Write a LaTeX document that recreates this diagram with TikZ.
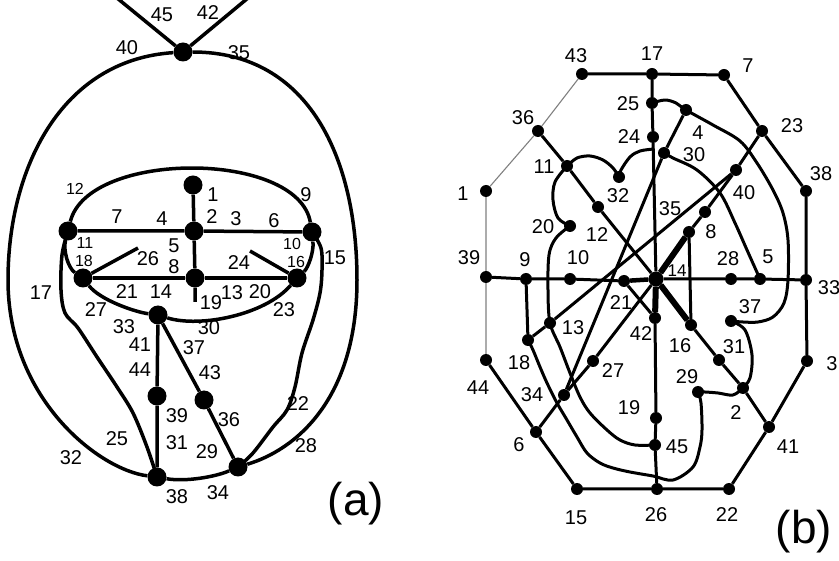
\documentclass[tikz,border=0pt]{standalone}
\usepackage{fontspec}
\setmainfont{Liberation Sans}
\usetikzlibrary{backgrounds}
\begin{document}
\begin{tikzpicture}[x=1pt,y=-1pt,
  bigdot/.style={circle,fill=black,inner sep=0pt,minimum size=19pt},
  dot/.style={circle,fill=black,inner sep=0pt,minimum size=12pt},
  hubdot/.style={circle,fill=black,inner sep=0pt,minimum size=15pt},
  lab/.style={font=\fontsize{20}{20}\selectfont,inner sep=0pt},
  slab/.style={font=\fontsize{16}{16}\selectfont,inner sep=0pt},
  biglab/.style={font=\fontsize{46}{46}\selectfont,inner sep=0pt},
  edgeA/.style={line width=3.5pt,line join=round},
  edgeB/.style={line width=3pt,line join=round},
  thinB/.style={line width=1.1pt,gray},
  hubedge/.style={line width=6pt},
  smoothline/.style={smooth,tension=0.55}]
\useasboundingbox (0,0) rectangle (839,561);

% ---------- (a) nodes ----------
\foreach \n/\x/\y in {T/183/52,1/193/185,2/194/231,A/68/231,B/312/232,18/83/278,8/195/278,16/297/278,C/158/315,D/157/396,E/204/400,38/157/477,34/238/467}
  \node[bigdot] (a\n) at (\x,\y) {};
\coordinate (aL) at (117,-2);
\coordinate (aR) at (248,-2);
\coordinate (a19) at (195,302);
\coordinate (a26) at (138,248);
\coordinate (a24) at (250,251);
\coordinate (aWest) at (8,280);
\coordinate (aEast) at (357,280);

% ---------- (b) nodes ----------
\foreach \n/\x/\y in {43/582/74,17/652/74,7/724/75,25/652/103,24/653/137,4/686/110,30/664/153,23/762/131,38/806/191,36/538/131,11/567/166,32/619/177,1/486/191,40/736/170,35/705/212,20/570/226,8/689/232,12/598/207,39/486/277,9/526/279,10/570/279,21/624/281,28/731/279,5/760/279,33/806/280,42/655/318,16/691/325,37/731/321,13/550/323,18/528/340,31/719/360,3/807/361,44/486/360,27/593/361,29/698/392,2/743/388,34/564/395,19/656/418,6/536/432,41/769/427,45/655/445,15/577/489,26/657/489,22/729/489}
  \node[dot] (b\n) at (\x,\y) {};
\node[hubdot] (b14) at (656,279) {};
\coordinate (bh) at (654,149);

% ---------- labels (a) ----------
\foreach \t/\x/\y in {45/162/15,42/208/13,40/127/48,35/239/53,9/306/195,1/213/195,2/212/217,3/236/219,6/274/221,7/117/217,4/162/219,26/148/259,5/174/246,8/174/267,24/239/263,15/335/258,17/41/293,21/127/292,14/161/292,19/211/303,13/232/293,20/260/292,27/96/310,23/284/310,33/124/327,30/209/328,41/140/345,37/194/348,44/140/370,43/210/373,39/177/416,36/229/420,25/117/439,31/177/443,29/207/452,22/298/404,28/306/446,32/71/458,38/177/497,34/218/493}
  \node[lab] (ta\t) at (\x,\y) {\t};
\foreach \t/\x/\y in {12/75/189,11/85/243,18/84/261,10/292/244,16/296/262}
  \node[slab] (ta\t) at (\x,\y) {\t};
\node[biglab] (tA) at (356,504) {(a)};

% ---------- labels (b) ----------
\foreach \t/\x/\y in {43/576/56,17/652/54,7/748/66,25/628/104,36/523/118,23/792/126,4/698/133,24/629/137,30/694/155,11/544/167,38/821/174,1/463/194,32/618/196,40/744/193,35/670/209,20/543/227,12/597/235,8/711/232,39/469/258,9/525/260,10/578/258,28/728/259,5/768/257,33/829/288,21/621/303,37/750/307,13/573/328,42/641/334,16/680/346,31/734/347,18/519/363,3/832/364,27/613/371,29/687/377,44/478/388,34/532/395,19/629/408,2/736/413,6/519/445,45/677/447,41/788/447,15/576/518,26/656/515,22/727/515}
  \node[lab] (tb\t) at (\x,\y) {\t};
\node[slab,font=\fontsize{17}{17}\selectfont] (tb14) at (677,271) {14};
\node[biglab] (tB) at (804,532) {(b)};

\begin{scope}[on background layer]
\fill[white] (0,0) rectangle (839,561);
% ----- (a) edges -----
\draw[edgeA] (aT) -- (aL);
\draw[edgeA] (aT) -- (aR);
\draw[edgeA] (aT) .. controls (60,60) and (8,170) .. (aWest) .. controls (8,400) and (100,470) .. (a38);
\draw[edgeA] (aT) .. controls (310,52) and (357,160) .. (aEast) .. controls (357,400) and (295,450) .. (a34);
\draw[edgeA] (a38) .. controls (185,482) and (215,477) .. (a34);
\draw[edgeA] (aA) .. controls (88,150) and (298,150) .. (aB);
\draw[edgeA] (aA) .. controls (63,250) and (68,268) .. (a18);
\draw[edgeA] (aB) .. controls (314,252) and (308,268) .. (a16);
\draw[edgeA] (a18) .. controls (100,300) and (135,312) .. (aC);
\draw[edgeA] (aC) .. controls (200,328) and (265,315) .. (a16);
\draw[edgeA] (aA) -- (a2) -- (aB);
\draw[edgeA] (a1) -- (a2) -- (a8) -- (a19);
\draw[edgeA] (a18) -- (a8) -- (a16);
\draw[edgeA] (a18) -- (a26);
\draw[edgeA] (a16) -- (a24);
\draw[edgeA] (aC) -- (aD) -- (a38);
\draw[edgeA] (aC) -- (aE) -- (a34);
\draw[edgeA] plot[smoothline] coordinates {(aA) (62,255) (61,290) (65,313) (78,328) (97,357) (117,387) (133,413) (147,447) (a38)};
\draw[edgeA] plot[smoothline] coordinates {(aB) (321,248) (322,270) (320,293) (313,320) (302,353) (295,387) (287,410) (273,427) (253,453) (a34)};
% ----- (b) edges -----
\draw[edgeB] (b43) -- (b17) -- (b7) -- (b23) -- (b38) -- (b33) -- (b3) -- (b41) -- (b22) -- (b26) -- (b15) -- (b6) -- (b44);
\draw[thinB] (b44) -- (b39) -- (b1) -- (b36) -- (b43);
\draw[edgeB] (b17) -- (b25) -- (b24) -- (b14) -- (b42) -- (b19) -- (b45) -- (b26);
\draw[edgeB] (b39) -- (b9) -- (b10) -- (b21) -- (b14) -- (b28) -- (b5) -- (b33);
\draw[edgeB] (b36) -- (b11) -- (b12) -- (b14) -- (b16) -- (b31) -- (b2) -- (b41);
\draw[edgeB] (b23) -- (b40) -- (b35) -- (b8) -- (b14);
\draw[edgeB] (b8) -- (b16);
\draw[edgeB] (b14) -- (b27) -- (b34) -- (b6);
\draw[edgeB] (b4) -- (b30) -- (b34);
\draw[edgeB] (b40) -- (b13) -- (b18);
\draw[edgeB] (b9) -- (b18);
\draw[edgeB] (b21) -- (b42);
\draw[hubedge] (b14) -- (b8);
\draw[hubedge] (b14) -- (b16);
\draw[hubedge] (b14) -- (b42);
\draw[line width=4.5pt] (b14) -- (b21);
\draw[edgeB] plot[smoothline] coordinates {(b11) (555,182) (553,200) (558,218) (b20)};
\draw[edgeB] plot[smoothline] coordinates {(b20) (556,238) (549,255) (548,290) (b13) (560,347) (570,373) (580,397) (590,413) (607,430) (620,440) (635,445) (b45)};
\draw[edgeB] plot[smoothline] coordinates {(b11) (577,158) (590,156) (603,160) (613,168) (b32)};
\draw[edgeB] plot[smoothline] coordinates {(b32) (621,170) (630,157) (640,151) (bh)};
\draw[edgeB] plot[smoothline] coordinates {(b25) (665,100) (676,103) (b4) (713,125) (740,141) (757,163) (773,190) (783,213) (788,240) (788,280) (784,303) (773,317) (758,322) (743,322) (b37)};
\draw[edgeB] plot[smoothline] coordinates {(b37) (745,330) (752,355) (750,378) (b2)};
\draw[edgeB] plot[smoothline] coordinates {(b2) (733,395) (718,393) (705,392) (b29)};
\draw[edgeB] plot[smoothline] coordinates {(b29) (701,403) (702,430) (700,447) (693,467) (673,480) (653,476) (630,472) (613,468) (600,463) (587,453) (577,437) (567,420) (557,403) (547,383) (540,367) (533,350) (b18)};
\draw[edgeB] plot[smoothline] coordinates {(b30) (673,158) (697,170) (720,193) (735,223) (747,250) (b5)};
\end{scope}
\end{tikzpicture}
\end{document}
